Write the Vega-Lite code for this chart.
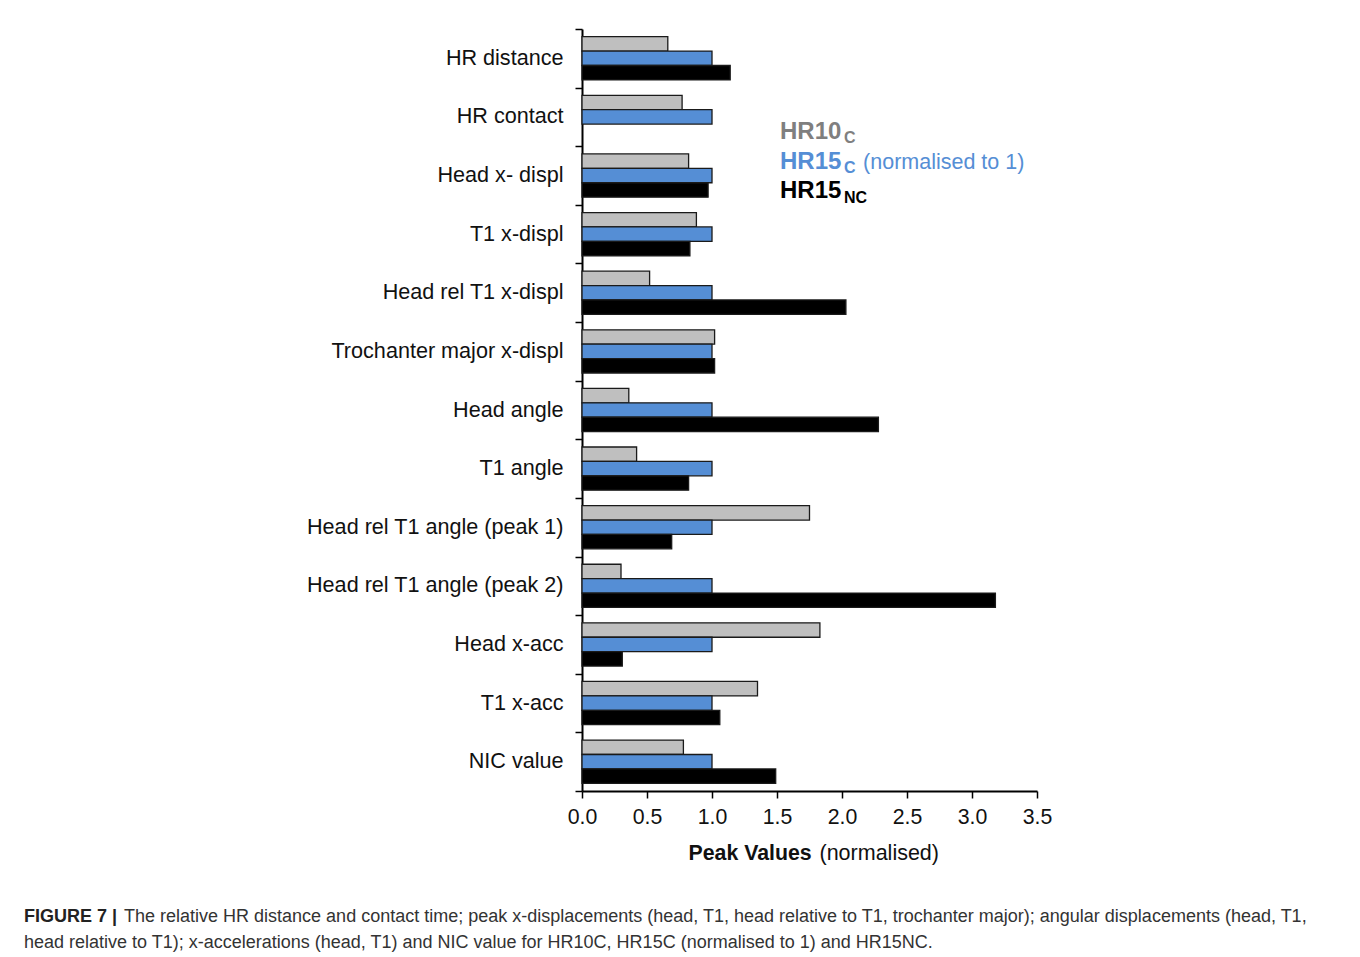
{
  "$schema": "https://vega.github.io/schema/vega-lite/v6.json",
  "width": 455,
  "height": 762,
  "autosize": {"type": "none"},
  "padding": {"left": 582, "top": 29, "right": 323, "bottom": 166},
  "background": "white",
  "config": {"view": {"stroke": null}, "font": "Liberation Sans"},
  "title": {
    "text": "FIGURE 7 |",
    "subtitle": [
      "\u200b\u00a0\u00a0\u00a0\u00a0\u00a0\u00a0\u00a0\u00a0\u00a0\u00a0\u00a0\u00a0\u00a0\u00a0\u00a0\u00a0\u00a0\u00a0\u00a0\u00a0The relative HR distance and contact time; peak x-displacements (head, T1, head relative to T1, trochanter major); angular displacements (head, T1,",
      "head relative to T1); x-accelerations (head, T1) and NIC value for HR10C, HR15C (normalised to 1) and HR15NC."
    ],
    "orient": "bottom",
    "anchor": "start",
    "frame": "group",
    "dx": -558,
    "offset": 44,
    "font": "Liberation Sans",
    "fontSize": 18,
    "fontWeight": "bold",
    "color": "#222222",
    "subtitleFont": "Liberation Sans",
    "subtitleFontSize": 18,
    "subtitleFontWeight": "normal",
    "subtitleColor": "#333333",
    "subtitlePadding": -18,
    "subtitleLineHeight": 26
  },
  "resolve": {"axis": {"x": "independent"}},
  "layer": [
    {
      "data": {
        "values": [
          {"measure": "HR distance", "series": "HR10C", "value": 0.66},
          {"measure": "HR distance", "series": "HR15C", "value": 1.0},
          {"measure": "HR distance", "series": "HR15NC", "value": 1.14},
          {"measure": "HR contact", "series": "HR10C", "value": 0.77},
          {"measure": "HR contact", "series": "HR15C", "value": 1.0},
          {"measure": "Head x- displ", "series": "HR10C", "value": 0.82},
          {"measure": "Head x- displ", "series": "HR15C", "value": 1.0},
          {"measure": "Head x- displ", "series": "HR15NC", "value": 0.97},
          {"measure": "T1 x-displ", "series": "HR10C", "value": 0.88},
          {"measure": "T1 x-displ", "series": "HR15C", "value": 1.0},
          {"measure": "T1 x-displ", "series": "HR15NC", "value": 0.83},
          {"measure": "Head rel T1 x-displ", "series": "HR10C", "value": 0.52},
          {"measure": "Head rel T1 x-displ", "series": "HR15C", "value": 1.0},
          {"measure": "Head rel T1 x-displ", "series": "HR15NC", "value": 2.03},
          {"measure": "Trochanter major x-displ", "series": "HR10C", "value": 1.02},
          {"measure": "Trochanter major x-displ", "series": "HR15C", "value": 1.0},
          {"measure": "Trochanter major x-displ", "series": "HR15NC", "value": 1.02},
          {"measure": "Head angle", "series": "HR10C", "value": 0.36},
          {"measure": "Head angle", "series": "HR15C", "value": 1.0},
          {"measure": "Head angle", "series": "HR15NC", "value": 2.28},
          {"measure": "T1 angle", "series": "HR10C", "value": 0.42},
          {"measure": "T1 angle", "series": "HR15C", "value": 1.0},
          {"measure": "T1 angle", "series": "HR15NC", "value": 0.82},
          {"measure": "Head rel T1 angle (peak 1)", "series": "HR10C", "value": 1.75},
          {"measure": "Head rel T1 angle (peak 1)", "series": "HR15C", "value": 1.0},
          {"measure": "Head rel T1 angle (peak 1)", "series": "HR15NC", "value": 0.69},
          {"measure": "Head rel T1 angle (peak 2)", "series": "HR10C", "value": 0.30},
          {"measure": "Head rel T1 angle (peak 2)", "series": "HR15C", "value": 1.0},
          {"measure": "Head rel T1 angle (peak 2)", "series": "HR15NC", "value": 3.18},
          {"measure": "Head x-acc", "series": "HR10C", "value": 1.83},
          {"measure": "Head x-acc", "series": "HR15C", "value": 1.0},
          {"measure": "Head x-acc", "series": "HR15NC", "value": 0.31},
          {"measure": "T1 x-acc", "series": "HR10C", "value": 1.35},
          {"measure": "T1 x-acc", "series": "HR15C", "value": 1.0},
          {"measure": "T1 x-acc", "series": "HR15NC", "value": 1.06},
          {"measure": "NIC value", "series": "HR10C", "value": 0.78},
          {"measure": "NIC value", "series": "HR15C", "value": 1.0},
          {"measure": "NIC value", "series": "HR15NC", "value": 1.49}
        ]
      },
      "mark": {"type": "bar", "stroke": "#1a1a1a", "strokeWidth": 1.3},
      "encoding": {
        "y": {
          "field": "measure",
          "type": "nominal",
          "sort": null,
          "scale": {"paddingInner": 0, "paddingOuter": 0},
          "axis": {
            "title": null,
            "tickBand": "extent",
            "labelFontSize": 21.6,
            "labelFont": "Liberation Sans",
            "labelColor": "#111111",
            "labelPadding": 12,
            "tickSize": 7,
            "tickColor": "#000000",
            "tickWidth": 1.5,
            "domainColor": "#000000",
            "domainWidth": 2,
            "labelLimit": 400
          }
        },
        "yOffset": {
          "field": "series",
          "type": "nominal",
          "sort": ["HR10C", "HR15C", "HR15NC"],
          "scale": {"domain": ["HR10C", "HR15C", "HR15NC"], "paddingInner": 0, "paddingOuter": 0.535}
        },
        "x": {
          "field": "value",
          "type": "quantitative",
          "scale": {"domain": [0, 3.5], "nice": false},
          "axis": {
            "orient": "bottom",
            "values": [0, 0.5, 1, 1.5, 2, 2.5, 3, 3.5],
            "format": ".1f",
            "grid": false,
            "labelFontSize": 21.3,
            "labelFont": "Liberation Sans",
            "labelColor": "#111111",
            "labelPadding": 8,
            "labelFlush": false,
            "labelOverlap": false,
            "tickSize": 7,
            "tickColor": "#000000",
            "tickWidth": 1.5,
            "domainColor": "#000000",
            "domainWidth": 2,
            "title": "Peak Values",
            "titleFont": "Liberation Sans",
            "titleFontSize": 21.3,
            "titleFontWeight": "bold",
            "titleColor": "#111111",
            "titleAnchor": null,
            "titleAlign": "left",
            "titleBaseline": "alphabetic",
            "titleX": 106,
            "titleY": 68
          }
        },
        "color": {
          "field": "series",
          "type": "nominal",
          "scale": {"domain": ["HR10C", "HR15C", "HR15NC"], "range": ["#bfbfbf", "#558ed5", "#000000"]},
          "legend": null
        }
      }
    },
    {
      "data": {"values": [{}]},
      "mark": {"type": "text", "text": "", "opacity": 0},
      "encoding": {
        "x": {
          "datum": 0,
          "type": "quantitative",
          "axis": {
            "orient": "bottom",
            "labels": false,
            "ticks": false,
            "domain": false,
            "grid": false,
            "title": "(normalised)",
            "titleFont": "Liberation Sans",
            "titleFontSize": 21.5,
            "titleFontWeight": "normal",
            "titleColor": "#111111",
            "titleAnchor": null,
            "titleAlign": "left",
            "titleBaseline": "alphabetic",
            "titleX": 237,
            "titleY": 68
          }
        },
        "y": {"datum": "HR distance", "type": "nominal"}
      }
    },
    {
      "data": {"values": [{}]},
      "mark": {"type": "text", "text": "HR10", "font": "Liberation Sans", "fontSize": 24, "fontWeight": "bold", "color": "#7f7f7f", "align": "left", "baseline": "alphabetic", "dy": 22},
      "encoding": {
        "x": {"datum": 1.523, "type": "quantitative", "axis": null},
        "y": {"datum": "HR contact", "type": "nominal"}
      }
    },
    {
      "data": {"values": [{}]},
      "mark": {"type": "text", "text": "C", "font": "Liberation Sans", "fontSize": 16, "fontWeight": "bold", "color": "#7f7f7f", "align": "left", "baseline": "alphabetic", "dy": 26.5},
      "encoding": {
        "x": {"datum": 2.015, "type": "quantitative", "axis": null},
        "y": {"datum": "HR contact", "type": "nominal"}
      }
    },
    {
      "data": {"values": [{}]},
      "mark": {"type": "text", "text": "HR15", "font": "Liberation Sans", "fontSize": 24, "fontWeight": "bold", "color": "#558ed5", "align": "left", "baseline": "alphabetic", "dy": 52},
      "encoding": {
        "x": {"datum": 1.523, "type": "quantitative", "axis": null},
        "y": {"datum": "HR contact", "type": "nominal"}
      }
    },
    {
      "data": {"values": [{}]},
      "mark": {"type": "text", "text": "C", "font": "Liberation Sans", "fontSize": 16, "fontWeight": "bold", "color": "#558ed5", "align": "left", "baseline": "alphabetic", "dy": 56.5},
      "encoding": {
        "x": {"datum": 2.015, "type": "quantitative", "axis": null},
        "y": {"datum": "HR contact", "type": "nominal"}
      }
    },
    {
      "data": {"values": [{}]},
      "mark": {"type": "text", "text": "(normalised to 1)", "font": "Liberation Sans", "fontSize": 21.5, "fontWeight": "normal", "color": "#558ed5", "align": "left", "baseline": "alphabetic", "dy": 52},
      "encoding": {
        "x": {"datum": 2.162, "type": "quantitative", "axis": null},
        "y": {"datum": "HR contact", "type": "nominal"}
      }
    },
    {
      "data": {"values": [{}]},
      "mark": {"type": "text", "text": "HR15", "font": "Liberation Sans", "fontSize": 24, "fontWeight": "bold", "color": "#000000", "align": "left", "baseline": "alphabetic", "dy": 81},
      "encoding": {
        "x": {"datum": 1.523, "type": "quantitative", "axis": null},
        "y": {"datum": "HR contact", "type": "nominal"}
      }
    },
    {
      "data": {"values": [{}]},
      "mark": {"type": "text", "text": "NC", "font": "Liberation Sans", "fontSize": 16, "fontWeight": "bold", "color": "#000000", "align": "left", "baseline": "alphabetic", "dy": 86},
      "encoding": {
        "x": {"datum": 2.015, "type": "quantitative", "axis": null},
        "y": {"datum": "HR contact", "type": "nominal"}
      }
    }
  ]
}
